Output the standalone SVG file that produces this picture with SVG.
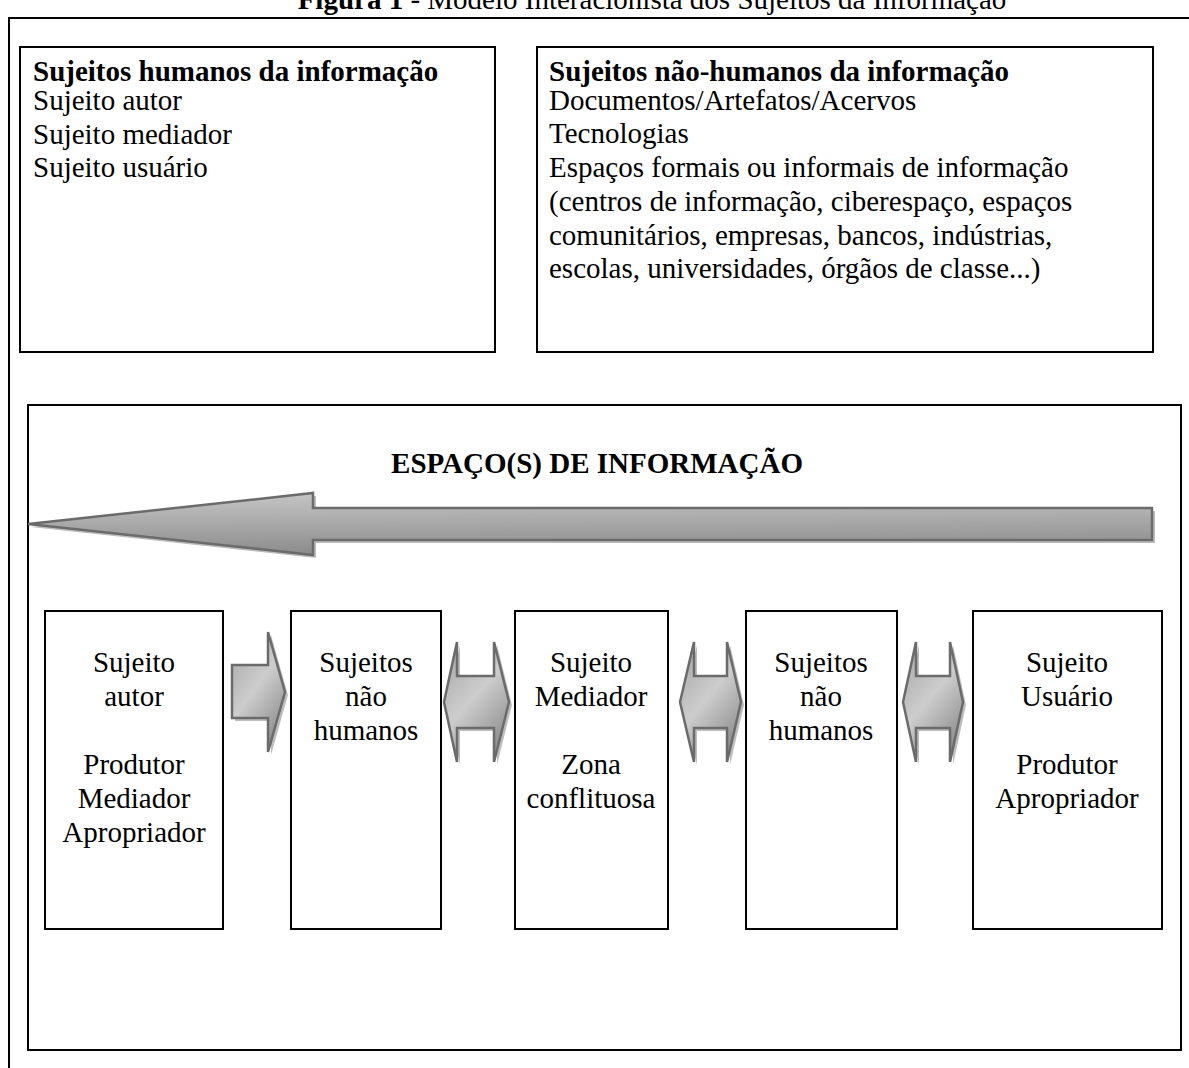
<svg xmlns="http://www.w3.org/2000/svg" width="1189" height="1068" viewBox="0 0 1189 1068">
<defs>
<style>
.t{font-family:"Liberation Serif","Times New Roman",serif;font-size:29px;fill:#000}
.b{font-weight:bold}
.c{text-anchor:middle}
.box{fill:#fff;stroke:#000;stroke-width:2}
.arr{fill:url(#g1);stroke:#6b6b6b;stroke-width:2.5;stroke-linejoin:miter}
.sh{fill:#bdbdbd}
.sarr{fill:url(#g2);stroke:#6b6b6b;stroke-width:2.5}
</style>
<linearGradient id="g1" x1="0" y1="0" x2="0.1" y2="1">
<stop offset="0" stop-color="#c6c6c6"/>
<stop offset="1" stop-color="#8c8c8c"/>
</linearGradient>
<linearGradient id="g2" x1="0.2" y1="0" x2="0.8" y2="1">
<stop offset="0" stop-color="#a8a8a8"/>
<stop offset="0.45" stop-color="#cdcdcd"/>
<stop offset="1" stop-color="#848484"/>
</linearGradient>
</defs>
<rect width="1189" height="1068" fill="#fff"/>
<g id="title">
<text class="t" x="652" y="9" text-anchor="middle"><tspan class="b">Figura 1</tspan> - Modelo Interacionista dos Sujeitos da Informação</text>
</g>
<g id="frame">
<path d="M1189,18 L9,18 L9,1068" fill="none" stroke="#000" stroke-width="2"/>
</g>
<g id="humanos">
<rect class="box" x="20" y="47" width="475" height="305"/>
<text class="t b" x="33" y="81">Sujeitos humanos da informação</text>
<text class="t" x="33" y="110">Sujeito autor</text>
<text class="t" x="33" y="144">Sujeito mediador</text>
<text class="t" x="33" y="177">Sujeito usuário</text>
</g>
<g id="nao-humanos">
<rect class="box" x="537" y="47" width="616" height="305"/>
<text class="t b" x="549" y="81">Sujeitos não-humanos da informação</text>
<text class="t" x="549" y="110">Documentos/Artefatos/Acervos</text>
<text class="t" x="549" y="143">Tecnologias</text>
<text class="t" x="549" y="177">Espaços formais ou informais de informação</text>
<text class="t" x="549" y="211">(centros de informação, ciberespaço, espaços</text>
<text class="t" x="549" y="245">comunitários, empresas, bancos, indústrias,</text>
<text class="t" x="549" y="278">escolas, universidades, órgãos de classe...)</text>
</g>
<g id="espaco">
<rect class="box" x="28" y="405" width="1153" height="645"/>
<text class="t b c" x="597" y="473">ESPAÇO(S) DE INFORMAÇÃO</text>
</g>
<g id="connectors">
<path class="sh" d="M31,527 L316,496 L316,511 L1155,511 L1155,543 L316,543 L316,558 Z"/>
<path class="arr" d="M28,524 L313,493 L313,508 L1152,508 L1152,540 L313,540 L313,555 Z"/>
<path class="sh" d="M235,668 L271,668 L271,635 L288,695 L271,755 L271,721 L235,721 Z"/>
<path class="sarr" d="M232,665 L268,665 L268,632 L285,692 L268,752 L268,718 L232,718 Z"/>
<path class="sh" d="M447,705 L460,645 L460,679 L497,679 L497,645 L512,705 L497,765 L497,731 L460,731 L460,765 Z"/>
<path class="sarr" d="M444,702 L457,642 L457,676 L494,676 L494,642 L509,702 L494,762 L494,728 L457,728 L457,762 Z"/>
<path class="sh" d="M683,705 L697,645 L697,679 L730,679 L730,645 L744,705 L730,765 L730,731 L697,731 L697,765 Z"/>
<path class="sarr" d="M680,702 L694,642 L694,676 L727,676 L727,642 L741,702 L727,762 L727,728 L694,728 L694,762 Z"/>
<path class="sh" d="M906,705 L919,645 L919,679 L953,679 L953,645 L966,705 L953,765 L953,731 L919,731 L919,765 Z"/>
<path class="sarr" d="M903,702 L916,642 L916,676 L950,676 L950,642 L963,702 L950,762 L950,728 L916,728 L916,762 Z"/>
</g>
<g id="autor">
<rect class="box" x="45" y="611" width="178" height="318"/>
<text class="t c" x="134" y="672">Sujeito</text>
<text class="t c" x="134" y="706">autor</text>
<text class="t c" x="134" y="774">Produtor</text>
<text class="t c" x="134" y="808">Mediador</text>
<text class="t c" x="134" y="842">Apropriador</text>
</g>
<g id="naohumanos1">
<rect class="box" x="291" y="611" width="150" height="318"/>
<text class="t c" x="366" y="672">Sujeitos</text>
<text class="t c" x="366" y="706">não</text>
<text class="t c" x="366" y="740">humanos</text>
</g>
<g id="mediador">
<rect class="box" x="515" y="611" width="153" height="318"/>
<text class="t c" x="591" y="672">Sujeito</text>
<text class="t c" x="591" y="706">Mediador</text>
<text class="t c" x="591" y="774">Zona</text>
<text class="t c" x="591" y="808">conflituosa</text>
</g>
<g id="naohumanos2">
<rect class="box" x="746" y="611" width="151" height="318"/>
<text class="t c" x="821" y="672">Sujeitos</text>
<text class="t c" x="821" y="706">não</text>
<text class="t c" x="821" y="740">humanos</text>
</g>
<g id="usuario">
<rect class="box" x="973" y="611" width="189" height="318"/>
<text class="t c" x="1067" y="672">Sujeito</text>
<text class="t c" x="1067" y="706">Usuário</text>
<text class="t c" x="1067" y="774">Produtor</text>
<text class="t c" x="1067" y="808">Apropriador</text>
</g>
</svg>
